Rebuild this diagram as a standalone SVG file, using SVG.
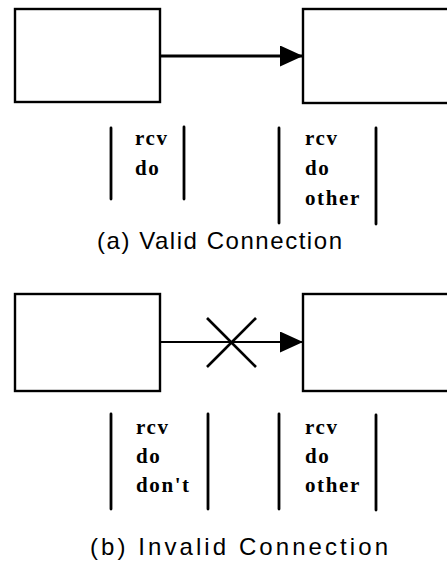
<svg xmlns="http://www.w3.org/2000/svg" width="447" height="562" viewBox="0 0 447 562">
<defs>
<style>
.box{fill:#fff;stroke:#000;stroke-width:2.4}
.bar{stroke:#000;stroke-width:2.8;stroke-linecap:round}
.conn{stroke:#000;fill:none}
.lbl{font-family:"Liberation Serif",serif;font-weight:bold;font-size:21px;letter-spacing:1.6px;fill:#000}
.cap{font-family:"Liberation Sans",Arial,sans-serif;font-size:24px;fill:#000}
</style>
<marker id="ah" markerUnits="userSpaceOnUse" markerWidth="24" markerHeight="22" refX="23" refY="10.5" orient="auto">
<path d="M0,0 L23,10.5 L0,21 Z" fill="#000"/>
</marker>
</defs>
<rect width="447" height="562" fill="#fff"/>
<g id="a-src"><rect class="box" x="15" y="9" width="145" height="93"/></g>
<g id="a-dst"><rect class="box" x="303" y="9" width="150" height="94"/></g>
<g id="b-src"><rect class="box" x="15" y="294" width="145" height="97"/></g>
<g id="b-dst"><rect class="box" x="303" y="294" width="150" height="97"/></g>
<g id="connectors">
<line class="conn" x1="161" y1="56" x2="303" y2="56" stroke-width="2.8" marker-end="url(#ah)"/>
<line class="conn" x1="161" y1="342" x2="303" y2="342" stroke-width="2.2" marker-end="url(#ah)"/>
<line class="conn" x1="207" y1="318" x2="256" y2="367" stroke-width="2.6"/>
<line class="conn" x1="256" y1="318" x2="207" y2="367" stroke-width="2.6"/>
</g>
<g id="a-src-list">
<line class="bar" x1="111" y1="128" x2="111" y2="199"/>
<line class="bar" x1="184" y1="127" x2="184" y2="199"/>
<text class="lbl" x="135" y="145">rcv</text>
<text class="lbl" x="135" y="175">do</text>
</g>
<g id="a-dst-list">
<line class="bar" x1="279" y1="128" x2="279" y2="223"/>
<line class="bar" x1="376" y1="128" x2="376" y2="224"/>
<text class="lbl" x="305" y="145">rcv</text>
<text class="lbl" x="305" y="175">do</text>
<text class="lbl" x="305" y="205">other</text>
</g>
<text class="cap" x="97" y="249" textLength="245" lengthAdjust="spacing">(a) Valid Connection</text>
<g id="b-src-list">
<line class="bar" x1="111" y1="414" x2="111" y2="509"/>
<line class="bar" x1="208" y1="414" x2="208" y2="509"/>
<text class="lbl" x="136" y="434">rcv</text>
<text class="lbl" x="136" y="463">do</text>
<text class="lbl" x="136" y="492">don't</text>
</g>
<g id="b-dst-list">
<line class="bar" x1="279" y1="414" x2="279" y2="509"/>
<line class="bar" x1="376" y1="415" x2="376" y2="510"/>
<text class="lbl" x="305" y="434">rcv</text>
<text class="lbl" x="305" y="463">do</text>
<text class="lbl" x="305" y="492">other</text>
</g>
<text class="cap" x="90" y="555" textLength="298" lengthAdjust="spacing">(b) Invalid Connection</text>
</svg>
